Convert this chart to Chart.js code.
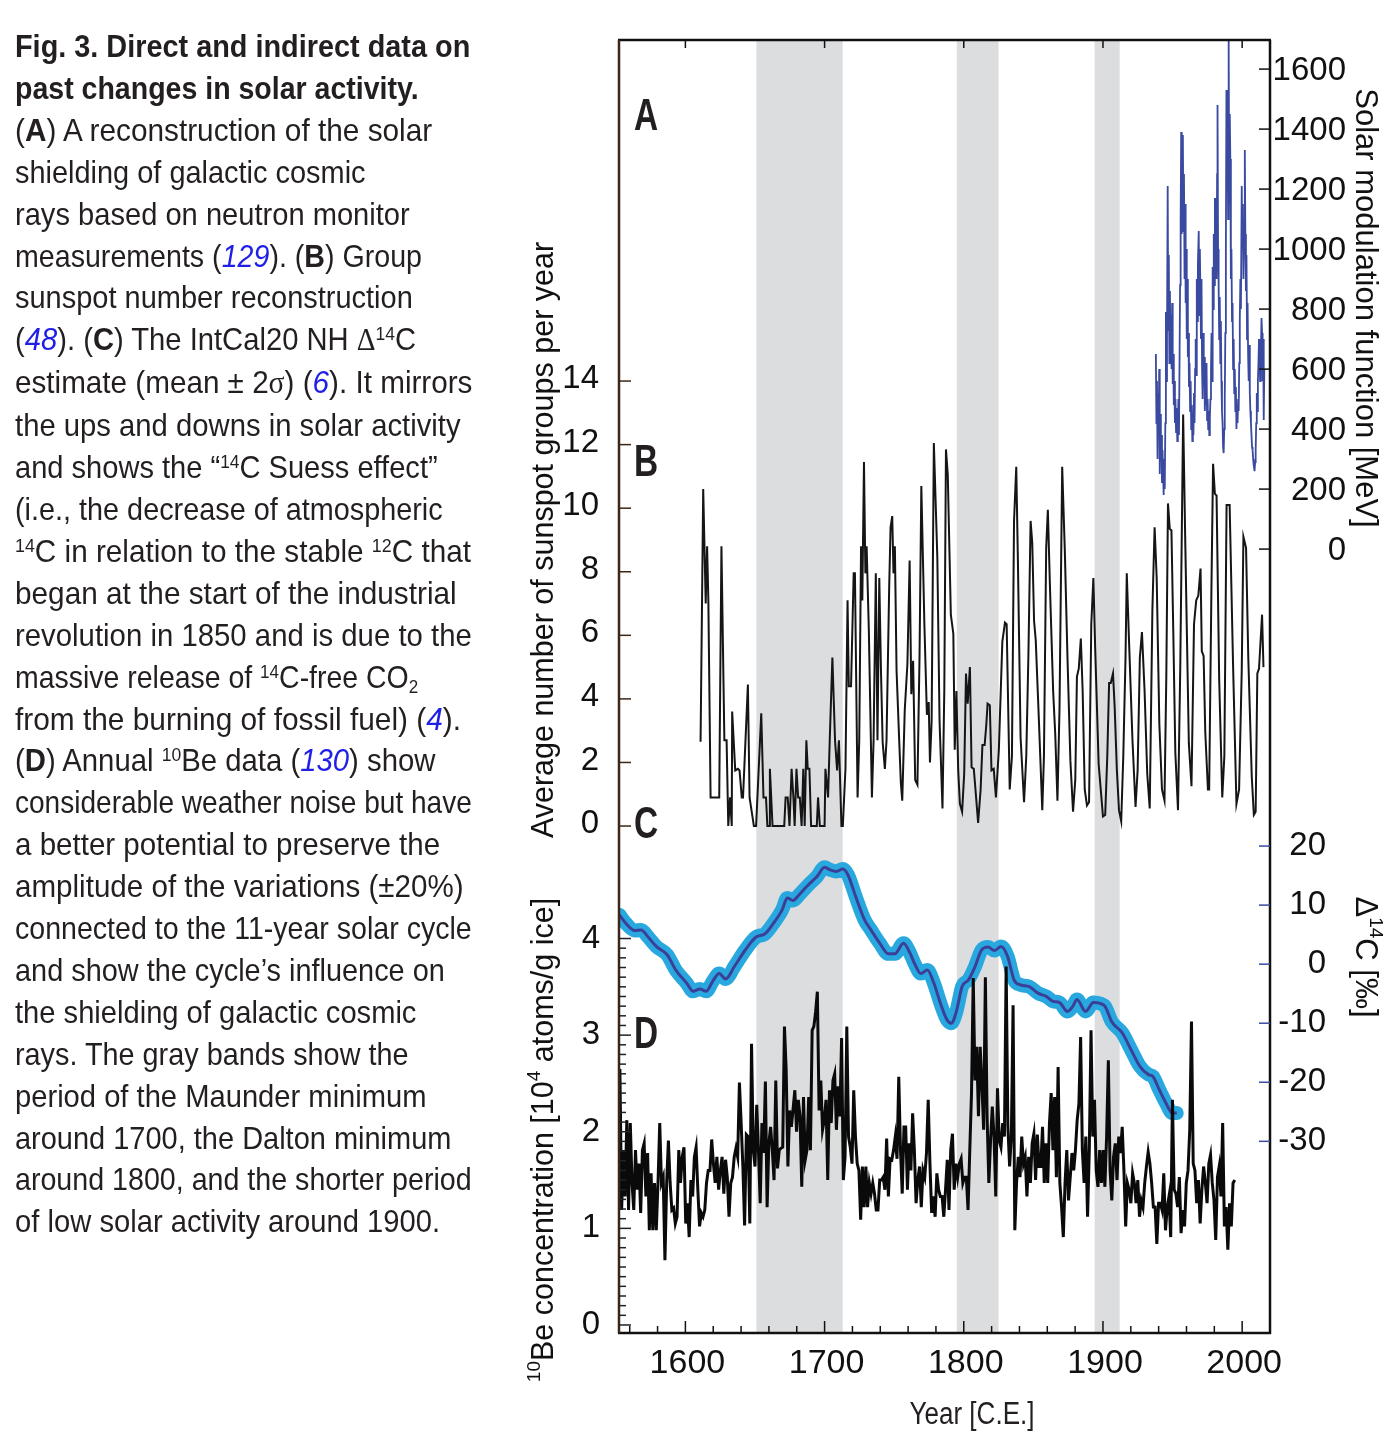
<!DOCTYPE html>
<html>
<head>
<meta charset="utf-8">
<script src="https://cdn.jsdelivr.net/npm/chart.js@4.4.1/dist/chart.umd.min.js"></script>
<style>
  html, body { margin: 0; padding: 0; background: #fff; }
  body { width: 1397px; height: 1442px; position: relative; overflow: hidden; }
  #solarChart { position: absolute; left: 0; top: 0; }
  #caption {
    position: absolute; left: 15px; top: 26px;
    font-family: "Liberation Sans", Arial, sans-serif;
    font-size: 30.5px; line-height: 41.9px; color: #231f20;
  }
  #caption .ln { display: table; white-space: nowrap; height: 41.9px; transform-origin: 0 50%; }
  #caption .ref { color: #1f1fe6; font-style: italic; }
  #caption sup { font-size: 60%; line-height: 0; vertical-align: 0.55em; }
  #caption sub { font-size: 60%; line-height: 0; vertical-align: -0.25em; }
  #caption .greek { font-family: "Liberation Serif", serif; }
</style>
</head>
<body>
<canvas id="solarChart" width="1397" height="1442"></canvas>

<div id="caption">
  <div class="ln" data-end="470"><b>Fig. 3. Direct and indirect data on</b></div>
  <div class="ln" data-end="419"><b>past changes in solar activity.</b></div>
  <div class="ln" data-end="432">(<b>A</b>) A reconstruction of the solar</div>
  <div class="ln" data-end="366">shielding of galactic cosmic</div>
  <div class="ln" data-end="410">rays based on neutron monitor</div>
  <div class="ln" data-end="422">measurements (<span class="ref">129</span>). (<b>B</b>) Group</div>
  <div class="ln" data-end="413">sunspot number reconstruction</div>
  <div class="ln" data-end="416">(<span class="ref">48</span>). (<b>C</b>) The IntCal20 NH <span class="greek">Δ</span><sup>14</sup>C</div>
  <div class="ln" data-end="472">estimate (mean ± 2<span class="greek">σ</span>) (<span class="ref">6</span>). It mirrors</div>
  <div class="ln" data-end="461">the ups and downs in solar activity</div>
  <div class="ln" data-end="438">and shows the “<sup>14</sup>C Suess effect”</div>
  <div class="ln" data-end="443">(i.e., the decrease of atmospheric</div>
  <div class="ln" data-end="471"><sup>14</sup>C in relation to the stable <sup>12</sup>C that</div>
  <div class="ln" data-end="457">began at the start of the industrial</div>
  <div class="ln" data-end="472">revolution in 1850 and is due to the</div>
  <div class="ln" data-end="418">massive release of <sup>14</sup>C-free CO<sub>2</sub></div>
  <div class="ln" data-end="461">from the burning of fossil fuel) (<span class="ref">4</span>).</div>
  <div class="ln" data-end="435">(<b>D</b>) Annual <sup>10</sup>Be data (<span class="ref">130</span>) show</div>
  <div class="ln" data-end="472">considerable weather noise but have</div>
  <div class="ln" data-end="440">a better potential to preserve the</div>
  <div class="ln" data-end="464">amplitude of the variations (±20%)</div>
  <div class="ln" data-end="472">connected to the 11-year solar cycle</div>
  <div class="ln" data-end="445">and show the cycle’s influence on</div>
  <div class="ln" data-end="416">the shielding of galactic cosmic</div>
  <div class="ln" data-end="409">rays. The gray bands show the</div>
  <div class="ln" data-end="427">period of the Maunder minimum</div>
  <div class="ln" data-end="451">around 1700, the Dalton minimum</div>
  <div class="ln" data-end="472">around 1800, and the shorter period</div>
  <div class="ln" data-end="440">of low solar activity around 1900.</div>
</div>

<script>
// =========================
// DATA
// =========================

// gray bands: Maunder, Dalton, ~1900
const bandStart = [1651, 1795, 1894];
const bandEnd = [1713, 1825, 1912];

// axis ticks
const yearMajorTicks = [1600, 1700, 1800, 1900, 2000];
const yearMinorTicks = [1560, 1580, 1620, 1640, 1660, 1680, 1720, 1740, 1760, 1780,
  1820, 1840, 1860, 1880, 1920, 1940, 1960, 1980];
const sunspotTicks = [0, 2, 4, 6, 8, 10, 12, 14];
const phiTicks = [0, 200, 400, 600, 800, 1000, 1200, 1400, 1600];
const d14cTicks = [20, 10, 0, -10, -20, -30];
const beTicks = [0, 1, 2, 3, 4];

// (A) solar modulation function [MeV]
const phiYears = [
  1938.0, 1938.4, 1938.8, 1939.2, 1939.6, 1940.0, 1940.4, 1940.8, 1941.2, 1941.6,
  1942.0, 1942.4, 1942.8, 1943.2, 1943.6, 1944.0, 1944.4, 1944.8, 1945.2, 1945.6,
  1946.0, 1946.5, 1946.9, 1947.3, 1947.7, 1948.1, 1948.5, 1948.9, 1949.3, 1949.7,
  1950.1, 1950.5, 1950.9, 1951.3, 1951.7, 1952.1, 1952.5, 1953.0, 1953.4, 1953.8,
  1954.2, 1954.6, 1955.0, 1955.4, 1955.8, 1956.2, 1956.6, 1957.0, 1957.4, 1957.8,
  1958.2, 1958.6, 1959.0, 1959.4, 1959.8, 1960.2, 1960.6, 1961.0, 1961.4, 1961.8,
  1962.2, 1962.6, 1963.0, 1963.4, 1963.8, 1964.2, 1964.6, 1965.0, 1965.4, 1965.8,
  1966.2, 1966.6, 1967.0, 1967.4, 1967.8, 1968.2, 1968.8, 1969.2, 1969.6, 1970.0,
  1970.4, 1970.8, 1971.2, 1971.6, 1972.0, 1972.4, 1972.8, 1973.2, 1973.6, 1974.0,
  1974.4, 1974.8, 1975.2, 1975.6, 1976.0, 1976.4, 1976.8, 1977.2, 1977.6, 1978.0,
  1978.4, 1978.8, 1979.2, 1979.6, 1980.0, 1980.4, 1980.8, 1981.2, 1981.6, 1982.0,
  1982.3, 1982.7, 1983.1, 1983.5, 1983.9, 1984.3, 1984.7, 1985.1, 1985.5, 1985.9,
  1986.3, 1986.7, 1987.1, 1987.5, 1987.9, 1988.3, 1988.7, 1989.1, 1989.5, 1989.9,
  1990.3, 1990.7, 1991.1, 1991.5, 1991.9, 1992.3, 1992.7, 1993.1, 1993.5, 1993.9,
  1994.3, 1994.7, 1995.1, 1995.5, 1995.9, 1996.3, 1996.7, 1997.1, 1997.5, 1997.9,
  1998.3, 1998.7, 1999.1, 1999.7, 2000.1, 2000.5, 2000.9, 2001.4, 2001.9, 2002.3,
  2002.7, 2003.1, 2003.5, 2003.9, 2004.3, 2004.7, 2005.1, 2005.5, 2005.9, 2006.3,
  2006.7, 2007.1, 2007.5, 2007.9, 2008.3, 2008.9, 2009.3, 2009.7, 2010.1, 2010.5,
  2010.9, 2011.3, 2011.7, 2012.1, 2012.5, 2012.9, 2013.3, 2013.9, 2014.3, 2014.7,
  2015.1, 2015.5, 2015.9
];
const phiValues = [
  650, 420, 560, 300, 520, 380, 600, 250, 450, 300,
  380, 220, 330, 250, 180, 300, 200, 420, 790, 560,
  700, 1210, 730, 980, 620, 860, 640, 780, 600, 820,
  550, 650, 480, 560, 420, 500, 390, 470, 360, 420,
  500, 380, 620, 880, 1100, 1390, 1050, 1320, 1380, 1060,
  1250, 900, 1150, 820, 1000, 700, 900, 640, 720, 540,
  620, 460, 560, 400, 480, 360, 450, 380, 520, 420,
  600, 700, 580, 900, 760, 950, 1060, 780, 1000, 860,
  700, 900, 600, 500, 720, 560, 640, 460, 560, 480,
  620, 430, 500, 400, 460, 380, 440, 500, 600, 720,
  560, 940, 800, 1050, 880, 1170, 960, 1170, 900, 1250,
  1480, 1000, 880, 700, 840, 620, 760, 560, 460, 420,
  340, 320, 400, 500, 720, 1000, 1530, 1200, 1400, 1100,
  1710, 1150, 1450, 1300, 900, 1000, 760, 820, 600, 700,
  520, 600, 460, 540, 400, 480, 420, 500, 460, 620,
  760, 900, 800, 1210, 1000, 1150, 900, 1080, 1330, 1050,
  860, 980, 700, 820, 640, 560, 680, 520, 460, 420,
  380, 340, 330, 300, 280, 260, 290, 330, 420, 520,
  460, 560, 620, 700, 640, 560, 620, 770, 720, 560,
  700, 430, 600
];

// (B) average number of sunspot groups per year
const sunspotYears = [
  1610.9, 1612.8, 1614.6, 1615.6, 1616.5, 1618.1, 1624.3, 1625.9, 1628.0, 1629.6,
  1630.8, 1632.1, 1633.3, 1633.6, 1635.8, 1637.7, 1638.9, 1640.5, 1641.4, 1644.9,
  1646.1, 1649.2, 1650.8, 1654.5, 1656.1, 1657.9, 1658.9, 1660.1, 1660.7, 1662.6,
  1671.0, 1672.0, 1673.5, 1674.8, 1676.3, 1677.6, 1678.5, 1679.8, 1681.0, 1682.2,
  1683.5, 1684.7, 1685.7, 1686.9, 1687.9, 1689.1, 1690.3, 1694.4, 1695.3, 1696.6,
  1700.0, 1700.6, 1702.5, 1703.7, 1705.6, 1707.5, 1709.0, 1710.3, 1712.1, 1713.1,
  1715.0, 1716.5, 1717.4, 1719.0, 1720.9, 1721.8, 1723.7, 1724.9, 1726.2, 1727.1,
  1728.3, 1729.3, 1730.2, 1731.8, 1734.0, 1735.2, 1736.8, 1738.0, 1739.3, 1740.5,
  1741.7, 1743.3, 1744.5, 1746.4, 1747.4, 1748.6, 1749.5, 1750.5, 1751.7, 1753.6,
  1754.8, 1755.8, 1757.6, 1759.5, 1761.1, 1762.3, 1763.6, 1765.1, 1766.7, 1768.2,
  1769.5, 1771.7, 1773.5, 1774.8, 1775.7, 1776.9, 1778.5, 1781.0, 1782.6, 1784.7,
  1786.0, 1787.2, 1788.5, 1790.7, 1792.5, 1793.5, 1794.7, 1796.0, 1797.2, 1798.8,
  1800.3, 1801.6, 1802.8, 1804.4, 1805.6, 1807.2, 1808.4, 1810.3, 1812.1, 1813.4,
  1815.0, 1816.2, 1817.1, 1818.7, 1819.9, 1821.5, 1823.1, 1825.2, 1827.7, 1829.6,
  1830.8, 1833.0, 1834.6, 1836.1, 1837.7, 1838.9, 1840.8, 1843.3, 1844.9, 1846.4,
  1848.0, 1849.2, 1850.5, 1851.7, 1853.9, 1856.4, 1857.6, 1859.2, 1860.4, 1862.0,
  1864.2, 1865.7, 1867.3, 1868.8, 1870.7, 1872.6, 1874.5, 1876.6, 1878.5, 1880.1,
  1881.3, 1882.6, 1884.1, 1885.4, 1886.9, 1888.5, 1890.0, 1891.6, 1893.1, 1894.4,
  1896.9, 1900.0, 1901.6, 1903.1, 1904.4, 1905.6, 1907.2, 1908.4, 1910.0, 1911.5,
  1913.1, 1914.6, 1916.2, 1917.1, 1918.7, 1921.2, 1923.4, 1924.9, 1926.5, 1928.0,
  1929.9, 1931.8, 1933.6, 1935.5, 1937.1, 1938.6, 1940.5, 1942.4, 1944.2, 1945.5,
  1946.7, 1948.0, 1949.2, 1950.5, 1952.0, 1953.9, 1955.5, 1957.6, 1959.2, 1961.7,
  1963.6, 1965.4, 1967.0, 1968.5, 1970.1, 1971.0, 1972.3, 1973.5, 1975.4, 1976.3,
  1977.9, 1979.1, 1980.4, 1981.6, 1983.5, 1985.7, 1987.2, 1988.8, 1991.0, 1993.5,
  1995.9, 1997.8, 1999.7, 2000.9, 2002.8, 2004.4, 2006.9, 2008.4, 2009.7, 2010.9,
  2012.1, 2014.3, 2015.3
];
const sunspotGroups = [
  2.65, 10.6, 7.0, 8.8, 7.1, 0.9, 0.9, 8.8, 2.7, 2.7,
  0, 0.9, 0, 3.6, 1.75, 1.8, 1.75, 0.9, 0.9, 4.45,
  0.9, 0, 0, 3.55, 0.9, 0.9, 0, 0, 1.8, 0,
  0, 0.9, 0.9, 0, 1.8, 0.9, 0, 1.8, 0.9, 0.9,
  0, 1.8, 0, 2.7, 1.8, 1.8, 0, 0, 0.9, 0,
  0, 1.8, 0.9, 2.7, 5.3, 2.7, 1.75, 2.7, 0, 0,
  1.8, 7.1, 4.4, 4.4, 7.95, 7.95, 0.9, 2.7, 8.8, 7.1,
  11.45, 7.95, 8.8, 6.15, 0.9, 2.7, 7.95, 2.7, 7.8, 4.9,
  2.65, 1.8, 2.7, 7.5, 9.4, 9.75, 7.95, 8.8, 4.9, 2.7,
  1.35, 0.8, 3.65, 5.1, 8.35, 4.15, 5.2, 1.45, 1.3, 5.3,
  10.7, 6.35, 3.5, 3.9, 2.0, 3.3, 12.05, 8.45, 3.3, 0.55,
  4.25, 11.85, 11.05, 6.65, 6.05, 2.4, 4.25, 1.75, 0.7, 0.45,
  1.65, 4.8, 3.85, 5.0, 1.85, 1.8, 1.15, 0.1, 1.15, 2.55,
  2.55, 3.2, 3.85, 3.8, 1.75, 1.8, 0.9, 2.4, 5.8, 6.4,
  6.35, 1.15, 2.2, 9.6, 11.3, 8.3, 2.8, 0.75, 2.2, 5.3,
  9.6, 8.9, 6.45, 5.85, 3.4, 0.5, 2.2, 8.75, 9.95, 7.4,
  4.25, 2.9, 0.8, 3.75, 11.3, 8.65, 5.3, 2.05, 0.45, 1.45,
  4.7, 4.95, 5.9, 4.25, 1.15, 0.65, 0.75, 6.35, 7.8, 5.6,
  1.95, 0.3, 0.35, 2.2, 4.5, 4.5, 4.8, 3.75, 1.75, 0.5,
  0.15, 2.2, 5.3, 7.95, 5.85, 2.7, 0.6, 1.75, 5.3, 6.1,
  4.25, 1.65, 0.55, 6.8, 9.4, 7.8, 3.2, 1.15, 0.8, 4.7,
  10.15, 9.35, 9.3, 6.15, 2.3, 0.5, 4.9, 12.95, 8.75, 2.6,
  1.25, 6.35, 7.1, 7.25, 8.1, 5.5, 5.35, 2.95, 1.15, 1.15,
  7.4, 11.4, 10.45, 10.4, 4.6, 0.9, 2.2, 10.1, 10.1, 5.0,
  0.7, 1.15, 4.9, 9.1, 8.75, 5.3, 1.55, 0.35, 0.45, 4.8,
  4.95, 6.65, 5.0
];

// (C) IntCal20 NH Delta14C [permil], mean curve
const d14cYears = [
  1552.6, 1557.3, 1563.6, 1568.2, 1572.9, 1579.1, 1586.9, 1593.1, 1600.9, 1605.6,
  1610.3, 1615.0, 1619.6, 1624.3, 1628.9, 1635.2, 1643.0, 1650.8, 1657.0, 1663.2,
  1669.5, 1673.2, 1677.3, 1681.9, 1688.2, 1694.4, 1700.0, 1703.7, 1708.4, 1713.1,
  1716.8, 1722.4, 1728.7, 1733.3, 1739.6, 1745.8, 1750.5, 1756.7, 1761.4, 1764.5,
  1769.2, 1773.8, 1778.5, 1783.2, 1787.9, 1791.0, 1794.7, 1798.8, 1803.4, 1808.1,
  1812.8, 1817.4, 1822.1, 1826.8, 1831.5, 1836.1, 1840.8, 1847.0, 1853.3, 1859.5,
  1864.2, 1868.8, 1874.5, 1878.2, 1881.3, 1887.5, 1893.1, 1898.4, 1901.6, 1906.2,
  1914.0, 1920.2, 1926.5, 1932.7, 1935.8, 1940.5, 1945.2, 1949.8, 1953.0
];
const d14cMean = [
  8.35, 6.9, 5.7, 5.8, 4.7, 3.0, 1.6, -1.0, -3.2, -4.6,
  -4.2, -4.6, -2.9, -1.6, -2.5, -0.4, 2.4, 4.6, 5.1, 6.9,
  9.2, 11.2, 10.8, 11.8, 13.4, 14.8, 16.4, 16.0, 15.7, 16.1,
  15.1, 11.4, 7.5, 5.8, 3.55, 1.75, 1.75, 3.55, 1.86, 0.17,
  -1.6, -1.0, -3.2, -6.6, -9.4, -10.0, -8.0, -3.8, -2.65, -0.4,
  2.4, 2.9, 2.3, 3.0, 1.3, -2.65, -3.5, -3.8, -4.9, -5.5,
  -6.3, -6.5, -8.0, -7.2, -6.0, -8.0, -6.5, -6.7, -7.2, -9.7,
  -11.7, -14.5, -17.3, -18.7, -19.0, -21.3, -23.5, -25.2, -25.2
];

// (D) annual 10Be concentration [10^4 atoms/g ice], 1552..1995
const beFirstYear = 1551.7;
const beLastYear = 1994.7;
const beValues = [
  2.50, 2.65, 1.19, 1.81, 1.33, 2.12, 1.19, 2.09, 1.47, 1.19,
  1.81, 1.40, 1.67, 1.16, 1.81, 1.88, 1.33, 1.78, 0.98, 1.57,
  0.98, 1.47, 0.98, 1.47, 2.09, 1.47, 1.53, 0.67, 1.47, 1.91,
  1.47, 1.19, 1.21, 1.05, 1.12, 1.81, 1.47, 1.74, 1.84, 1.05,
  1.26, 0.91, 1.50, 1.33, 1.74, 1.84, 1.40, 1.02, 1.16, 1.12,
  1.19, 1.47, 1.60, 1.60, 1.92, 1.67, 1.47, 1.74, 1.40, 1.60,
  1.74, 1.36, 1.71, 1.53, 1.12, 1.47, 1.53, 1.74, 1.83, 1.74,
  2.51, 2.09, 1.64, 1.03, 1.97, 1.95, 1.05, 2.91, 1.81, 1.64,
  2.28, 1.81, 1.26, 2.09, 1.78, 2.52, 1.22, 1.88, 2.05, 1.81,
  1.50, 2.53, 1.62, 1.81, 1.83, 1.84, 3.09, 2.64, 1.64, 2.22,
  2.05, 2.24, 2.43, 2.00, 2.33, 2.16, 1.43, 2.36, 1.71, 1.81,
  2.36, 1.81, 3.05, 3.09, 3.24, 3.45, 2.22, 2.53, 2.02, 2.12,
  2.33, 1.50, 2.43, 2.09, 2.53, 2.60, 2.02, 2.47, 2.16, 2.97,
  1.50, 1.74, 3.09, 1.95, 1.84, 1.67, 2.43, 1.95, 1.67, 1.60,
  1.09, 1.64, 1.22, 1.64, 1.22, 1.47, 1.36, 1.47, 1.36, 1.19,
  1.19, 1.50, 1.50, 1.53, 1.40, 1.93, 1.33, 1.72, 1.71, 1.81,
  1.95, 1.72, 2.57, 1.81, 1.36, 2.05, 2.05, 1.40, 1.88, 1.60,
  2.19, 1.81, 1.26, 1.50, 1.64, 1.22, 1.60, 1.53, 1.78, 2.33,
  1.67, 1.16, 1.33, 1.12, 1.57, 1.40, 1.33, 1.33, 1.12, 1.40,
  1.71, 1.19, 1.81, 1.98, 1.40, 1.67, 1.53, 1.67, 1.72, 1.47,
  1.53, 1.53, 1.19, 1.81, 2.40, 3.59, 2.53, 2.88, 2.16, 2.88,
  2.50, 2.02, 3.60, 2.16, 1.47, 1.91, 2.26, 1.95, 1.33, 2.45,
  1.91, 1.84, 2.09, 1.95, 3.71, 2.05, 1.64, 1.95, 3.31, 0.98,
  1.47, 1.74, 1.53, 1.95, 1.67, 1.74, 1.33, 1.74, 1.47, 1.88,
  1.98, 1.50, 1.97, 1.64, 1.64, 2.05, 1.47, 1.88, 1.47, 2.09,
  2.40, 1.81, 2.36, 1.53, 2.67, 1.47, 1.22, 0.91, 1.47, 1.81,
  1.29, 1.53, 1.78, 1.60, 1.81, 2.12, 2.29, 2.98, 1.81, 1.47,
  1.95, 1.12, 1.81, 3.05, 1.95, 2.33, 1.60, 1.43, 1.81, 1.47,
  1.81, 1.43, 1.95, 2.74, 1.60, 1.29, 1.74, 1.88, 1.50, 1.95,
  1.78, 2.05, 1.60, 1.02, 1.47, 1.40, 1.26, 1.57, 1.47, 1.26,
  1.50, 1.12, 1.29, 1.22, 1.47, 1.64, 1.79, 1.67, 1.47, 1.22,
  1.22, 0.84, 1.26, 1.26, 1.19, 1.57, 0.98, 1.22, 1.33, 0.91,
  2.33, 1.40, 1.36, 1.22, 1.53, 0.95, 1.19, 1.02, 1.47, 1.60,
  2.02, 3.14, 1.67, 1.60, 1.26, 1.50, 1.05, 1.40, 1.64, 1.47,
  1.26, 1.67, 1.76, 1.47, 1.29, 0.88, 1.53, 1.64, 1.33, 2.09,
  1.02, 1.22, 0.78, 1.26, 1.02, 1.47, 1.50
];

// =========================
// HELPERS
// =========================
const TICK_FONT = '"Liberation Sans", Arial, sans-serif';

const toPoints = (xs, ys) => xs.map((x, i) => ({ x, y: ys[i] }));

function bePoints() {
  const step = (beLastYear - beFirstYear) / (beValues.length - 1);
  return beValues.map((v, i) => ({ x: beFirstYear + i * step, y: v }));
}

function seg(ctx, x0, y0, x1, y1) {
  ctx.beginPath();
  ctx.moveTo(x0, y0);
  ctx.lineTo(x1, y1);
  ctx.stroke();
}

// text with superscripts, optionally rotated / squeezed
function richText(ctx, parts, cx, cy, angle, size, opts = {}) {
  const family = opts.family || TICK_FONT;
  const weight = opts.weight || "normal";
  const squeeze = opts.squeeze || 1;
  ctx.save();
  ctx.translate(cx, cy);
  ctx.rotate(angle);
  ctx.scale(squeeze, 1);
  const big = `${weight} ${size}px ${family}`;
  const small = `${weight} ${Math.round(size * 0.62)}px ${family}`;
  let total = 0;
  parts.forEach((p) => {
    ctx.font = p.sup ? small : big;
    total += ctx.measureText(p.t).width;
  });
  let xx = -total / 2;
  ctx.textAlign = "left";
  ctx.textBaseline = "middle";
  parts.forEach((p) => {
    ctx.font = p.sup ? small : big;
    ctx.fillText(p.t, xx, p.sup ? -size * 0.33 : 0);
    xx += ctx.measureText(p.t).width;
  });
  ctx.restore();
}

// =========================
// DECOR PLUGIN (bands, frame, ticks, labels)
// =========================
const figureDecor = {
  id: "figureDecor",
  beforeDatasetsDraw(chart) {
    const { ctx, chartArea: a, scales: { x } } = chart;
    ctx.save();
    ctx.fillStyle = "#dcdddf";
    bandStart.forEach((s, i) => {
      const x0 = x.getPixelForValue(s);
      const x1 = x.getPixelForValue(bandEnd[i]);
      ctx.fillRect(x0, a.top, x1 - x0, a.bottom - a.top);
    });
    ctx.restore();
  },
  afterDatasetsDraw(chart) {
    const { ctx, chartArea: a, scales } = chart;
    const { x, yA, yB, yC, yD } = scales;
    ctx.save();

    // frame
    ctx.lineWidth = 2.5;
    ctx.strokeStyle = "#111";
    seg(ctx, a.left - 1, a.top, a.right + 1, a.top);
    seg(ctx, a.right, a.top, a.right, a.bottom + 1);
    seg(ctx, a.left - 1, a.bottom, a.right + 1, a.bottom);
    ctx.strokeStyle = "#3b2618";
    seg(ctx, a.left, a.top, a.left, a.bottom);

    // x ticks
    ctx.lineWidth = 1.5;
    ctx.strokeStyle = "#111";
    yearMajorTicks.forEach((v) => {
      const px = x.getPixelForValue(v);
      seg(ctx, px, a.top, px, a.top + 8);
      seg(ctx, px, a.bottom, px, a.bottom - 12);
    });
    yearMinorTicks.forEach((v) => {
      const px = x.getPixelForValue(v);
      seg(ctx, px, a.bottom, px, a.bottom - 7);
    });

    // left ticks: sunspots
    ctx.strokeStyle = "#3b2618";
    sunspotTicks.forEach((v) => {
      const py = yB.getPixelForValue(v);
      seg(ctx, a.left, py, a.left + 12, py);
    });
    // left ticks: 10Be, minor every 0.1
    ctx.strokeStyle = "#222";
    for (let k = 0; k <= 40; k++) {
      const py = yD.getPixelForValue(k / 10);
      seg(ctx, a.left, py, a.left + (k % 10 === 0 ? 12 : 7), py);
    }
    // right ticks
    ctx.strokeStyle = "#111";
    phiTicks.forEach((v) => {
      const py = yA.getPixelForValue(v);
      seg(ctx, a.right, py, a.right - 11, py);
    });
    ctx.strokeStyle = "#3a4aa0";
    d14cTicks.forEach((v) => {
      const py = yC.getPixelForValue(v);
      seg(ctx, a.right, py, a.right - 11, py);
    });

    // tick labels
    ctx.fillStyle = "#111";
    ctx.textBaseline = "middle";
    ctx.font = `34px ${TICK_FONT}`;
    ctx.textAlign = "center";
    yearMajorTicks.forEach((v) => ctx.fillText(String(v), x.getPixelForValue(v) + 2, a.bottom + 31));

    ctx.font = `33px ${TICK_FONT}`;
    ctx.textAlign = "right";
    sunspotTicks.forEach((v) => ctx.fillText(String(v), a.left - 20, yB.getPixelForValue(v) - 2));
    beTicks.forEach((v) => ctx.fillText(String(v), a.left - 19, yD.getPixelForValue(v)));
    phiTicks.forEach((v) => ctx.fillText(String(v), a.right + 76, yA.getPixelForValue(v) + 2));
    d14cTicks.forEach((v) => ctx.fillText(String(v), a.right + 56, yC.getPixelForValue(v)));

    // panel letters (condensed bold)
    ctx.fillStyle = "#231f20";
    [["A", 118], ["B", 464], ["C", 826], ["D", 1036]].forEach(([t, py]) => {
      richText(ctx, [{ t }], a.left + 27, py, 0, 44, { weight: "bold", squeeze: 0.76 });
    });

    // axis titles
    ctx.fillStyle = "#111";
    richText(ctx, [{ t: "Average number of sunspot groups per year" }], 545, 540, -Math.PI / 2, 30.5);
    richText(ctx, [{ t: "10", sup: true }, { t: "Be concentration [10" }, { t: "4", sup: true }, { t: " atoms/g ice]" }],
      545, 1140, -Math.PI / 2, 30.5);
    richText(ctx, [{ t: "Solar modulation function [MeV]" }], 1365, 308, Math.PI / 2, 31);
    richText(ctx, [{ t: "Δ" }, { t: "14", sup: true }, { t: "C [‰]" }], 1365, 957, Math.PI / 2, 31);
    ctx.fillStyle = "#231f20";
    richText(ctx, [{ t: "Year [C.E.]" }], 972, 1415, 0, 31, { squeeze: 0.84 });

    ctx.restore();
  },
};

// =========================
// CHART
// =========================
// lower order is drawn on top: 10Be over the 14C curve, as in print
const chart = new Chart(document.getElementById("solarChart"), {
  type: "line",
  data: {
    datasets: [
      {
        label: "10Be",
        data: bePoints(),
        yAxisID: "yD",
        borderColor: "#0a0a0a",
        borderWidth: 3,
        order: 1,
      },
      {
        label: "IntCal20 mean",
        data: toPoints(d14cYears, d14cMean),
        yAxisID: "yC",
        borderColor: "#3b3f98",
        borderWidth: 3,
        cubicInterpolationMode: "monotone",
        order: 2,
      },
      {
        label: "IntCal20 2 sigma",
        data: toPoints(d14cYears, d14cMean),
        yAxisID: "yC",
        borderColor: "#29a8e0",
        borderWidth: 14,
        borderJoinStyle: "round",
        borderCapStyle: "round",
        cubicInterpolationMode: "monotone",
        order: 3,
      },
      {
        label: "Solar modulation function",
        data: toPoints(phiYears, phiValues),
        yAxisID: "yA",
        borderColor: "#3a4aa0",
        borderWidth: 1.8,
        order: 4,
      },
      {
        label: "Group sunspot number",
        data: toPoints(sunspotYears, sunspotGroups),
        yAxisID: "yB",
        borderColor: "#151515",
        borderWidth: 2,
        order: 5,
      },
    ],
  },
  options: {
    responsive: false,
    animation: false,
    devicePixelRatio: 1,
    events: [],
    layout: { padding: { left: 619, right: 127, top: 40, bottom: 109 } },
    elements: { point: { radius: 0 }, line: { tension: 0, borderJoinStyle: "miter" } },
    plugins: { legend: { display: false }, tooltip: { enabled: false } },
    scales: {
      x: { type: "linear", display: false, min: 1552.3, max: 2020 },
      yA: { type: "linear", display: false, min: -2613, max: 1697 },
      yB: { type: "linear", display: false, min: -15.95, max: 24.73 },
      yC: { type: "linear", display: false, min: -62.46, max: 156.5 },
      yD: { type: "linear", display: false, min: -0.083, max: 13.3 },
    },
  },
  plugins: [figureDecor],
});

// caption lines: squeeze each line so it ends where it does in print
document.querySelectorAll("#caption .ln").forEach((ln) => {
  const target = Number(ln.dataset.end) - 15;
  const w = ln.offsetWidth;
  if (w > 0) ln.style.transform = `scaleX(${(target / w).toFixed(4)})`;
});
</script>
</body>
</html>
